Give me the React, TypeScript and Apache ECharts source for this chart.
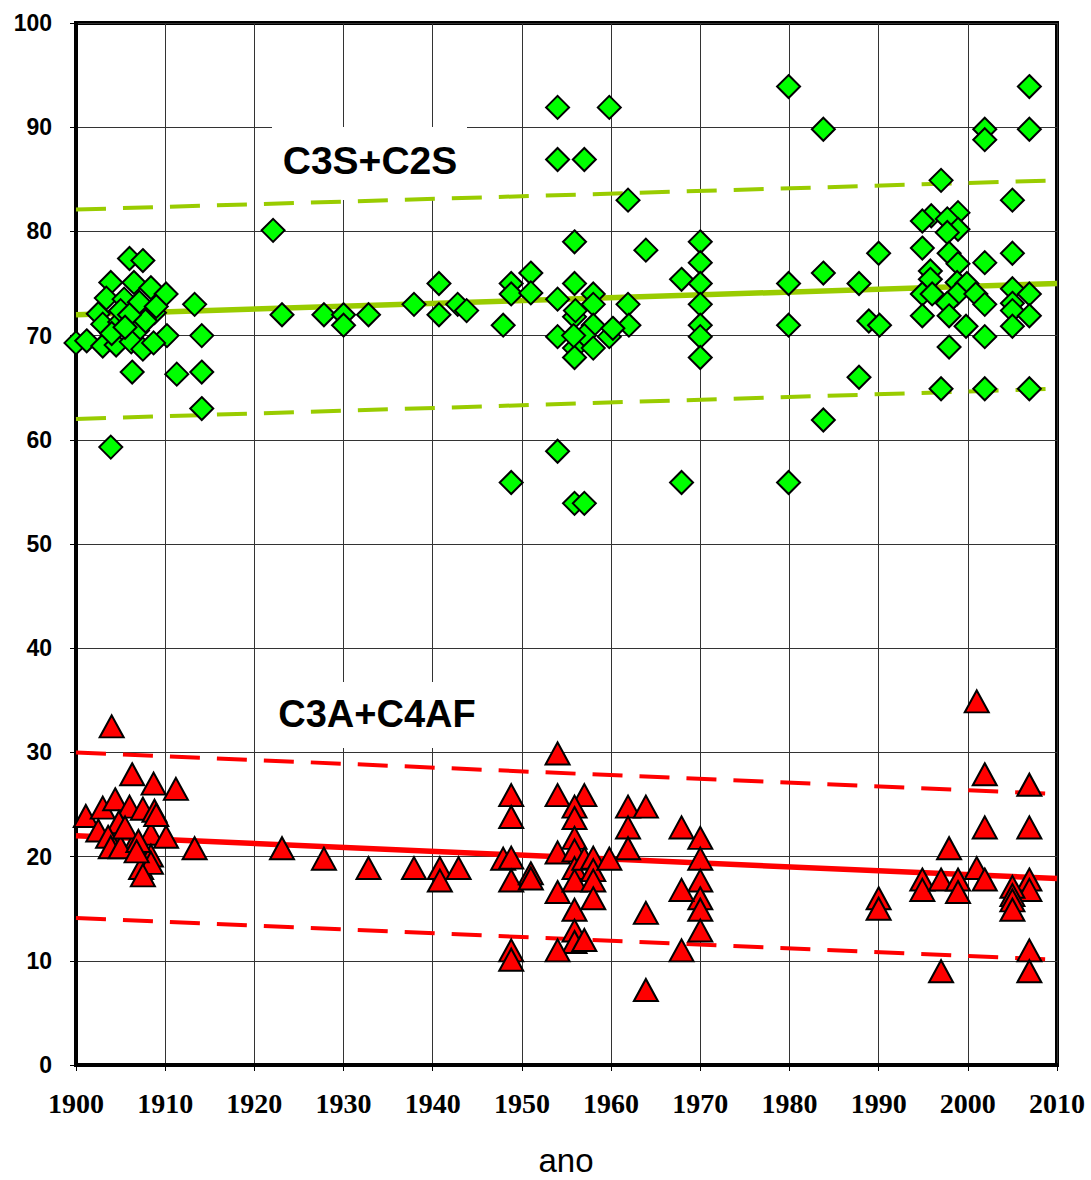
import React, { useEffect, useRef } from "react";
import * as echarts from "echarts";

const xTicks = [1900, 1910, 1920, 1930, 1940, 1950, 1960, 1970, 1980, 1990, 2000, 2010];
const yTicks = [0, 10, 20, 30, 40, 50, 60, 70, 80, 90, 100];

const silicatesLabel = "C3S+C2S";
const aluminatesLabel = "C3A+C4AF";
const xTitle = "ano";

// C3S+C2S points [year, %]
const silicates: number[][] = [
  [1906.0, 77.4], [1907.5, 77.2], [1903.9, 75.1], [1906.5, 75.1], [1908.4, 74.6], [1910.1, 74.0],
  [1903.4, 73.6], [1905.4, 73.5], [1907.1, 73.2], [1908.8, 72.2], [1902.5, 72.1], [1903.0, 71.1],
  [1904.9, 71.3], [1906.9, 70.5], [1907.8, 71.4], [1910.2, 70.0], [1900.0, 69.3], [1901.2, 69.5],
  [1903.0, 69.0], [1904.5, 69.1], [1906.2, 69.4], [1907.5, 68.7], [1908.7, 69.3], [1906.3, 66.5],
  [1911.3, 66.3], [1913.3, 73.0], [1914.1, 70.0], [1914.1, 66.5], [1914.1, 63.0], [1903.9, 59.3],
  [1905.0, 72.4], [1906.0, 72.0], [1904.0, 70.2], [1905.5, 70.8], [1909.0, 72.8],
  [1922.1, 80.1], [1923.1, 72.0], [1927.8, 72.0], [1930.0, 72.0], [1930.0, 71.0], [1932.8, 72.0],
  [1937.9, 73.0], [1940.7, 75.0], [1940.7, 72.0], [1942.8, 73.0], [1943.8, 72.4],
  [1954.0, 91.9], [1959.8, 91.9], [1954.0, 86.9], [1957.0, 86.9], [1961.9, 83.0], [1955.9, 79.0],
  [1963.9, 78.2], [1970.0, 79.0], [1970.0, 77.0], [1951.0, 76.0], [1948.8, 75.0], [1948.8, 74.0],
  [1951.0, 74.1], [1955.9, 75.0], [1967.9, 75.4], [1970.0, 75.0], [1954.0, 73.5], [1958.0, 74.0],
  [1958.0, 73.0], [1961.9, 73.0], [1970.0, 73.0], [1955.9, 71.8], [1956.0, 72.4], [1947.9, 71.0],
  [1958.0, 71.0], [1962.0, 71.0], [1970.0, 71.0], [1954.0, 69.9], [1959.8, 69.9], [1960.2, 70.7],
  [1957.0, 70.0], [1955.9, 68.8], [1955.9, 67.9], [1958.0, 68.8], [1970.0, 69.9], [1970.0, 67.9],
  [1955.8, 70.0], [1954.0, 58.9], [1948.8, 55.9], [1967.9, 55.9], [1955.9, 53.9], [1957.0, 53.9],
  [1979.9, 93.9], [1983.8, 89.8], [1990.0, 77.9], [1983.8, 76.0], [1979.9, 75.0], [1987.8, 75.0],
  [1979.9, 71.0], [1988.9, 71.4], [1990.1, 71.0], [1987.8, 66.0], [1983.8, 61.9], [1979.9, 55.9],
  [2006.9, 93.9], [2001.9, 89.8], [2001.9, 88.8], [2006.9, 89.8], [1997.0, 84.9], [2005.0, 83.0],
  [1995.9, 81.5], [1994.9, 81.0], [1998.9, 81.8], [1997.7, 81.2], [1998.9, 80.2], [1997.7, 79.9],
  [1994.9, 78.4], [1997.9, 77.9], [2001.9, 77.0], [2005.0, 77.9], [1998.9, 76.9], [1995.8, 76.2],
  [1995.8, 75.4], [1998.8, 75.1], [1999.9, 75.0], [1994.9, 74.0], [1996.0, 74.0], [1998.8, 74.0],
  [2000.9, 74.0], [2005.0, 74.5], [2006.9, 74.0], [2001.9, 73.0], [1997.7, 73.1], [2005.0, 73.1],
  [1994.9, 71.9], [1997.9, 71.9], [2005.0, 72.4], [2006.9, 71.9], [1999.8, 70.9], [2005.0, 70.9],
  [2001.9, 69.9], [1997.9, 68.9], [1997.0, 64.9], [2001.9, 64.9], [2006.9, 64.9],
];

// C3A+C4AF points [year, %]
const aluminates: number[][] = [
  [1904.0, 32.5], [1906.3, 27.9], [1908.7, 27.0], [1911.2, 26.5], [1899.9, 24.4], [1901.1, 23.9],
  [1903.0, 24.7], [1904.4, 25.5], [1906.0, 24.8], [1907.5, 24.6], [1908.8, 24.4], [1904.8, 23.3],
  [1902.5, 22.5], [1903.6, 21.9], [1908.4, 22.2], [1910.1, 21.9], [1903.9, 20.9], [1906.4, 21.1],
  [1908.4, 20.1], [1913.3, 20.8], [1907.3, 18.9], [1908.4, 19.4], [1907.5, 18.2], [1905.0, 20.9],
  [1905.5, 22.8], [1907.0, 21.5], [1909.0, 24.0], [1906.8, 20.5],
  [1923.1, 20.8], [1927.8, 19.8], [1932.8, 18.9], [1937.9, 18.9], [1940.8, 18.9], [1940.8, 17.7],
  [1942.9, 18.9],
  [1954.0, 29.9], [1948.8, 25.9], [1948.8, 23.8], [1954.0, 25.9], [1957.0, 25.9], [1955.9, 24.8],
  [1955.9, 23.7], [1955.9, 21.8], [1961.9, 24.8], [1963.9, 24.8], [1961.9, 22.8], [1961.9, 20.8],
  [1967.9, 22.8], [1970.0, 21.8], [1970.0, 19.8], [1970.0, 17.7], [1970.0, 16.0], [1970.0, 14.9],
  [1970.0, 12.9], [1967.9, 16.8], [1967.9, 11.0], [1963.9, 14.6], [1963.9, 7.2], [1947.9, 19.8],
  [1948.8, 19.9], [1948.8, 17.7], [1951.0, 18.4], [1951.0, 17.9], [1954.0, 20.4], [1954.0, 16.6],
  [1955.9, 20.6], [1955.9, 18.9], [1955.9, 17.7], [1955.9, 14.9], [1955.9, 12.9], [1955.9, 11.8],
  [1957.0, 19.8], [1957.0, 12.0], [1958.0, 19.9], [1958.0, 18.7], [1958.0, 17.7], [1958.0, 16.0],
  [1959.8, 19.8], [1954.0, 11.0], [1948.8, 11.0], [1948.8, 10.1],
  [2001.0, 34.9], [2001.9, 27.9], [2006.9, 26.9], [2001.9, 22.8], [2006.9, 22.8], [1997.9, 20.8],
  [2001.0, 18.9], [2001.9, 17.8], [1994.9, 17.8], [1994.9, 16.8], [1997.0, 17.8], [1998.9, 17.8],
  [1998.9, 16.6], [2006.9, 17.8], [2006.9, 16.8], [2005.0, 17.1], [2005.0, 16.3], [2005.0, 15.8],
  [2005.0, 14.9], [2006.9, 11.0], [2006.9, 9.0], [1997.0, 9.0], [1990.0, 16.0], [1990.0, 15.0],
];

// trend lines (endpoints)
const silicatesTrend = [[1900, 72.0], [2010, 75.0]];
const silicatesUpper = [[1900, 82.1], [2010, 84.9]];
const silicatesLower = [[1900, 62.0], [2010, 64.9]];
const aluminatesTrend = [[1900, 22.0], [2010, 17.9]];
const aluminatesUpper = [[1900, 30.0], [2010, 26.0]];
const aluminatesLower = [[1900, 14.1], [2010, 10.1]];

const GREEN_LINE = "#99CC00";
const RED_LINE = "#FF0000";

function lineSeries(data: number[][], color: string, dashed: boolean) {
  return {
    type: "line",
    data,
    showSymbol: false,
    symbol: "none",
    z: 3,
    silent: true,
    lineStyle: {
      color,
      width: dashed ? 4 : 5.5,
      type: dashed ? [30, 17] : "solid",
    },
  };
}

export default function App() {
  const ref = useRef<HTMLDivElement>(null);
  useEffect(() => {
    document.body.style.margin = "0";
    if (!ref.current) return;
    const chart = echarts.init(ref.current, undefined, { renderer: "svg" });
    chart.setOption({
      animation: false,
      backgroundColor: "#ffffff",
      grid: {
        left: 76,
        right: 34,
        top: 23,
        bottom: 115,
        show: true,
        borderColor: "#000",
        borderWidth: 4,
        backgroundColor: "transparent",
      },
      xAxis: {
        type: "value",
        min: 1900,
        max: 2010,
        interval: 10,
        axisLine: { show: true, lineStyle: { color: "#000", width: 4 } },
        axisTick: { show: true, length: 6, inside: false, lineStyle: { color: "#000", width: 1 } },
        splitLine: { show: true, lineStyle: { color: "#333", width: 1 } },
        axisLabel: {
          color: "#000",
          fontFamily: "Liberation Serif",
          fontWeight: "bold",
          fontSize: 28,
          margin: 24,
          formatter: (v: number) => (xTicks.includes(v) ? String(v) : ""),
        },
      },
      yAxis: {
        type: "value",
        min: 0,
        max: 100,
        interval: 10,
        axisLine: { show: true, lineStyle: { color: "#000", width: 4 } },
        axisTick: { show: true, length: 6, inside: false, lineStyle: { color: "#000", width: 1 } },
        splitLine: { show: true, lineStyle: { color: "#333", width: 1 } },
        axisLabel: {
          color: "#000",
          fontFamily: "Liberation Sans",
          fontWeight: "bold",
          fontSize: 23,
          margin: 24,
          formatter: (v: number) => (yTicks.includes(v) ? String(v) : ""),
        },
      },
      graphic: [
        { type: "rect", z: 1, shape: { x: 272, y: 127, width: 195, height: 73 }, style: { fill: "#fff" }, silent: true },
        { type: "rect", z: 1, shape: { x: 272, y: 682, width: 222, height: 66 }, style: { fill: "#fff" }, silent: true },
        {
          type: "text", z: 5, x: 370, y: 160,
          style: { text: silicatesLabel, fill: "#000", font: "bold 39px 'Liberation Sans'", align: "center", verticalAlign: "middle" },
        },
        {
          type: "text", z: 5, x: 377, y: 714,
          style: { text: aluminatesLabel, fill: "#000", font: "bold 38px 'Liberation Sans'", align: "center", verticalAlign: "middle" },
        },
        {
          type: "text", z: 5, x: 566, y: 1160,
          style: { text: xTitle, fill: "#000", font: "33px 'Liberation Sans'", align: "center", verticalAlign: "middle" },
        },
      ],
      series: [
        lineSeries(silicatesUpper, GREEN_LINE, true),
        lineSeries(silicatesLower, GREEN_LINE, true),
        lineSeries(silicatesTrend, GREEN_LINE, false),
        lineSeries(aluminatesUpper, RED_LINE, true),
        lineSeries(aluminatesLower, RED_LINE, true),
        lineSeries(aluminatesTrend, RED_LINE, false),
        {
          type: "scatter",
          data: silicates,
          symbol: "diamond",
          symbolSize: [23, 23],
          z: 4,
          itemStyle: { color: "#00FF00", borderColor: "#000", borderWidth: 2, opacity: 1 },
        },
        {
          type: "scatter",
          data: aluminates,
          symbol: "triangle",
          symbolSize: [24, 22],
          z: 4,
          itemStyle: { color: "#FF0000", borderColor: "#000", borderWidth: 2, opacity: 1 },
        },
      ],
    });
    return () => chart.dispose();
  }, []);
  return <div ref={ref} style={{ width: 1091, height: 1180 }} />;
}
